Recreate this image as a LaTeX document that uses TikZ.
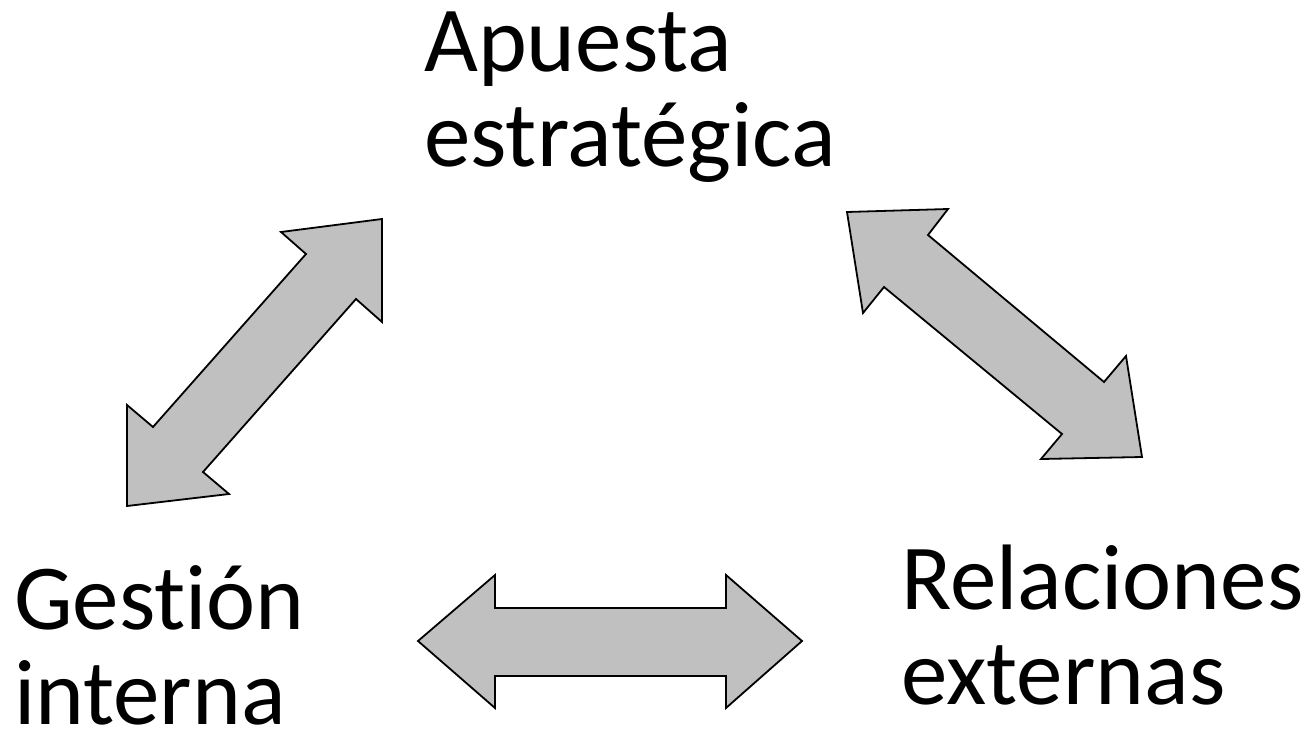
\documentclass[tikz,border=0pt]{standalone}
\usepackage{fontspec}
\setmainfont[Ligatures=NoCommon]{Carlito}
\begin{document}
\begin{tikzpicture}[x=1pt,y=-1pt,
  lbl/.style={inner sep=0pt, anchor=base west, align=left,
    font=\fontsize{93}{95}\selectfont},
  dblarrow/.style={fill={rgb,255:red,192;green,192;blue,192}, draw=black, line width=1.8pt, line join=miter}]
\useasboundingbox (0,0) rectangle (1312,734);
\node[lbl] (apuesta) at (424,166) {Apuesta\\estratégica};
\node[lbl] (gestion) at (14,724) {Gestión\\interna};
\node[lbl] (relaciones) at (901,704) {Relaciones\\externas};
% left diagonal arrow
\draw[dblarrow] (382,219) -- (281,232) -- (306,254) -- (153,427) -- (127,405)
  -- (127,506) -- (229,494) -- (203,472) -- (356,299) -- (382,322) -- cycle;
% right diagonal arrow
\draw[dblarrow] (847,212) -- (948,209) -- (928,235) -- (1104,382) -- (1126,356)
  -- (1142,457) -- (1041,459) -- (1062,434) -- (884,287) -- (863,313) -- cycle;
% horizontal arrow
\draw[dblarrow] (418,641) -- (495,575) -- (495,608) -- (726,608) -- (726,575)
  -- (802,641) -- (726,708) -- (726,676) -- (495,676) -- (495,708) -- cycle;
\end{tikzpicture}
\end{document}
